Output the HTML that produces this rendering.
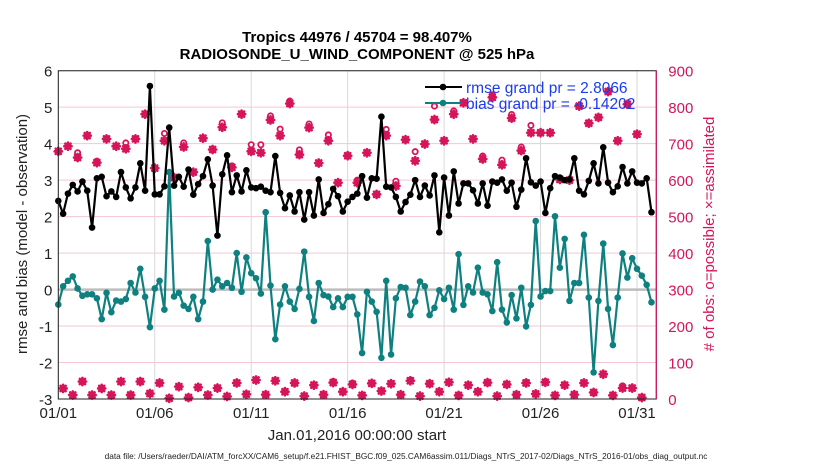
<!DOCTYPE html>
<html><head><meta charset="utf-8"><style>
body{margin:0;background:#fff;}
svg{display:block;font-family:"Liberation Sans",Arial,sans-serif;}
</style></head><body>
<svg id="chart" width="830" height="470" viewBox="0 0 830 470">
<rect width="830" height="470" fill="#fff"/>
<text x="357" y="42" text-anchor="middle" font-size="15" font-weight="bold">Tropics 44976 / 45704 = 98.407%</text>
<text x="357" y="59" text-anchor="middle" font-size="15" font-weight="bold">RADIOSONDE_U_WIND_COMPONENT @ 525 hPa</text>
<g id="grid"></g>
<g id="marks"></g>
<g id="axes"></g>
<text transform="translate(27,234) rotate(-90)" text-anchor="middle" font-size="15" fill="#222">rmse and bias (model - observation)</text>
<text transform="translate(714,234) rotate(-90)" text-anchor="middle" font-size="15" fill="#d6145a"># of obs: o=possible; ×=assimilated</text>
<text x="357" y="440" text-anchor="middle" font-size="15" fill="#222">Jan.01,2016 00:00:00 start</text>
<text x="406" y="459" text-anchor="middle" font-size="8.3" fill="#222">data file: /Users/raeder/DAI/ATM_forcXX/CAM6_setup/f.e21.FHIST_BGC.f09_025.CAM6assim.011/Diags_NTrS_2017-02/Diags_NTrS_2016-01/obs_diag_output.nc</text>
<g id="legend"></g>
</svg>
<script>
const rmse=[2.43,2.08,2.63,2.87,2.69,2.96,2.71,1.70,3.05,3.09,2.56,2.69,2.54,3.22,2.80,2.50,2.80,3.46,2.71,5.58,2.61,2.61,2.83,4.44,2.85,3.09,2.82,3.29,2.60,2.89,3.11,3.57,2.85,1.48,3.16,3.68,2.67,3.13,2.69,3.27,2.80,
2.78,2.82,2.71,2.67,3.66,2.65,2.23,2.58,2.14,2.67,1.92,2.67,2.03,3.02,2.10,2.34,2.76,2.56,2.14,2.41,2.54,2.63,3.11,2.52,3.05,3.04,4.74,2.82,2.80,2.54,2.14,2.40,2.60,3.00,2.54,2.85,2.58,3.13,1.57,3.07,
2.03,3.24,2.36,2.91,2.91,2.72,2.36,2.91,2.30,2.96,2.93,3.02,2.71,2.93,2.27,2.74,3.60,2.94,2.85,2.96,2.10,2.78,3.11,3.07,3.00,3.02,3.60,2.71,2.61,2.98,3.46,2.91,3.90,2.93,2.67,2.83,3.36,2.91,3.24,2.93,2.91,3.05,2.12];
const bias=[-0.41,0.09,0.24,0.36,0.03,-0.17,-0.13,-0.13,-0.24,-0.81,-0.09,-0.62,-0.30,-0.33,-0.26,0.18,-0.08,0.57,-0.20,-1.03,0.03,0.24,-0.55,3.22,-0.19,-0.09,-0.44,-0.53,-0.20,-0.81,-0.33,1.33,0.00,0.27,0.09,0.18,0.05,1.00,-0.06,0.88,0.45,
0.31,-0.11,2.12,0.11,-1.36,-0.41,0.09,-0.33,-0.53,0.02,1.04,-0.20,-0.86,0.18,-0.15,-0.19,-0.48,-0.24,-0.48,-0.20,-0.20,-0.68,-1.74,-0.06,-0.33,-0.61,-1.87,0.24,-1.78,-0.24,0.07,0.05,-0.70,-0.33,0.22,0.09,-0.70,-0.50,-0.02,-0.26,
0.05,-0.55,0.97,-0.42,0.09,-0.08,0.60,-0.08,-0.13,-0.59,0.75,-0.55,-0.90,-0.15,-0.79,0.05,-1.01,-0.42,1.88,-0.19,-0.04,-0.04,2.01,0.60,1.39,-0.31,0.18,0.18,1.50,-0.22,-2.27,-0.31,1.26,-0.53,-1.52,-0.22,0.99,0.33,0.86,0.57,0.38,0.13,-0.35];
const obsHighAssim=[679,693,662,722,648,713,693,686,713,781,633,708,607,691,622,715,684,745,635,781,679,
675,765,722,810,670,744,647,708,593,667,593,675,561,722,584,711,653,699,766,708,
781,812,713,658,827,642,770,681,730,730,730,602,600,803,756,772,843,708,808,726];
const obsHighPoss=[679,693,675,722,652,713,693,702,713,781,633,728,607,702,622,715,684,757,639,781,697,
697,776,740,817,683,754,647,724,593,667,600,675,561,739,597,711,678,699,803,708,
790,812,713,666,834,655,780,691,750,730,730,602,600,803,756,772,843,708,808,726];
const obsLowAssim=[29,11,48,11,29,11,48,11,48,15,44,2,34,4,32,11,30,7,44,13,52,
12,50,20,44,8,38,12,45,20,40,10,43,22,42,12,50,8,42,20,46,
10,38,20,45,8,40,12,44,14,46,10,38,12,44,18,68,10,30,30,4];
const obsLowPoss=[29,11,48,11,29,11,48,11,48,15,44,2,34,4,32,11,30,7,44,13,52,
12,50,20,44,8,38,12,48,20,44,10,43,22,42,12,52,8,42,20,46,
10,38,20,45,8,40,12,46,14,48,10,38,12,44,18,68,10,36,30,4];
const xTickLabels=["01/01","01/06","01/11","01/16","01/21","01/26","01/31"];
const xTickDays=[0,5,10,15,20,25,30];
const yTicks=[-3,-2,-1,0,1,2,3,4,5,6];
const rTicks=[0,100,200,300,400,500,600,700,800,900];
const legendLabels=["rmse grand pr = 2.8066","bias grand pr = -0.14202"];

const X0=58.3,X1=656.3,Y0=399,Y1=70.7,DAYS=31;
const xDay=d=>X0+(d/DAYS)*(X1-X0);
const xIdx=i=>xDay(i*0.25);
const yL=v=>Y0-(v+3)/9*(Y0-Y1);
const yR=v=>Y0-v/900*(Y0-Y1);
const NS="http://www.w3.org/2000/svg";
function mk(tag,parent,attrs){const e=document.createElementNS(NS,tag);for(const k in attrs)e.setAttribute(k,attrs[k]);parent.appendChild(e);return e;}
const grid=document.getElementById('grid'),marks=document.getElementById('marks'),axes=document.getElementById('axes'),leg=document.getElementById('legend');
const PINK="#d6145a",TEAL="#0f8080";

xTickDays.forEach((d,i)=>{
  const l=mk('line',grid,{x1:xDay(d),x2:xDay(d),y1:Y1,y2:Y0,stroke:"#d8d8d8","stroke-width":1});
  
  
  const t=mk('text',axes,{x:xDay(d),y:Y0+19,"text-anchor":"middle","font-size":15,fill:"#222"});
  t.textContent=xTickLabels[i];
  
  
});
rTicks.forEach(v=>{
  const l=mk('line',grid,{x1:X0,x2:X1,y1:yR(v),y2:yR(v),stroke:"#f3c6d6","stroke-width":1});
  
  
  const t=mk('text',axes,{x:X1+12,y:yR(v)+6,"font-size":15,fill:PINK});
  t.textContent=v;
  
  
});
yTicks.forEach(v=>{
  const t=mk('text',axes,{x:X0-6,y:yL(v)+6,"text-anchor":"end","font-size":15,fill:"#222"});
  t.textContent=v;
  
  
});
const zl=mk('line',grid,{x1:X0,x2:X1,y1:yL(0),y2:yL(0),stroke:"#bdbdbd","stroke-width":2.5});



function star(x,y,name){
  const g=mk('g',marks,{stroke:PINK,"stroke-width":2.6,"stroke-linecap":"round"});
  
  
  mk('path',g,{d:`M${x-3.6} ${y}H${x+3.6}M${x} ${y-3.6}V${y+3.6}M${x-2.6} ${y-2.6}L${x+2.6} ${y+2.6}M${x-2.6} ${y+2.6}L${x+2.6} ${y-2.6}`});
}
function circ(x,y,name){
  const c=mk('circle',marks,{cx:x,cy:y,r:2.6,fill:"#fff",stroke:PINK,"stroke-width":1.8});
  
  
}
obsHighAssim.forEach((v,k)=>{const x=xIdx(2*k);circ(x,yR(obsHighPoss[k]),'obs-possible');star(x,yR(v),'obs-assimilated');});
obsLowAssim.forEach((v,k)=>{const x=xIdx(2*k+1);circ(x,yR(obsLowPoss[k]),'obs-possible');star(x,yR(v),'obs-assimilated');});

function series(arr,color,name){
  const pts=arr.map((v,i)=>xIdx(i).toFixed(1)+","+yL(v).toFixed(1)).join(" ");
  const p=mk('polyline',marks,{points:pts,fill:"none",stroke:color,"stroke-width":2.2,"stroke-linejoin":"round"});
  
  
  arr.forEach((v,i)=>{
    const c=mk('circle',marks,{cx:xIdx(i),cy:yL(v),r:3.3,fill:color});
    
    
  });
}
series(bias,TEAL,'bias');
series(rmse,"#000",'rmse');

const frame=mk('path',axes,{d:`M${X0} ${Y1}H${X1}V${Y0}H${X0}Z`,fill:"none",stroke:"#222","stroke-width":1});


const ra=mk('line',axes,{x1:X1,x2:X1,y1:Y1,y2:Y0,stroke:PINK,"stroke-width":1.2});



[["#000",93],[TEAL,109]].forEach((s,i)=>{
  const g=mk('g',leg,{});
  
  
  mk('line',g,{x1:425,x2:462,y1:s[1]-6,y2:s[1]-6,stroke:s[0],"stroke-width":2});
  mk('circle',g,{cx:443,cy:s[1]-6,r:3.3,fill:s[0]});
  const t=mk('text',g,{x:466,y:s[1],"font-size":15.5,fill:"#1a3cf0"});
  t.textContent=legendLabels[i];
});
</script>
</body></html>
